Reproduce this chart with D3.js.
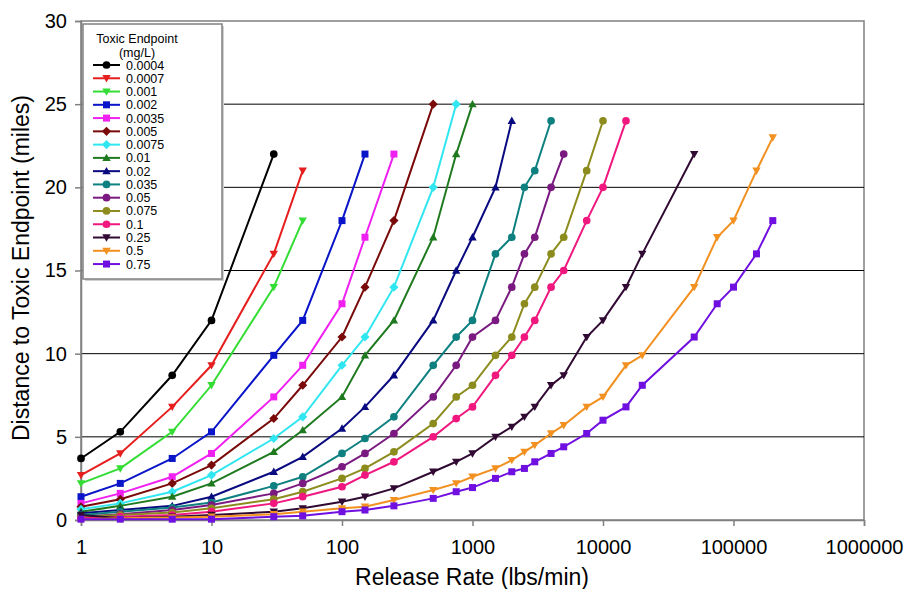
<!DOCTYPE html>
<html><head><meta charset="utf-8">
<script src="https://cdn.jsdelivr.net/npm/d3@7"></script>
<style>body{margin:0;background:#fff}svg{display:block;font-family:Arial,"Liberation Sans",sans-serif}</style>
</head><body><svg id="c" width="911" height="589"></svg>
<script>
const rates = [1,2,5,10,30,50,100,150,250,500,750,1000,1500,2000,2500,3000,4000,5000,7500,10000,15000,20000,50000,75000,100000,150000,200000];
const endpoints = ["0.0004","0.0007","0.001","0.002","0.0035","0.005","0.0075","0.01","0.02","0.035","0.05","0.075","0.1","0.25","0.5","0.75"];
const d0004 = [3.7, 5.3, 8.7, 12, 22];
const d0007 = [2.7, 4.0, 6.8, 9.3, 16, 21];
const d001  = [2.2, 3.1, 5.3, 8.1, 14, 18];
const d002  = [1.4, 2.2, 3.7, 5.3, 9.9, 12, 18, 22];
const d0035 = [1.0, 1.6, 2.6, 4.0, 7.4, 9.3, 13, 17, 22];
const d005  = [0.8, 1.25, 2.2, 3.3, 6.1, 8.1, 11, 14, 18, 25];
const d0075 = [0.65, 1.0, 1.7, 2.7, 4.9, 6.2, 9.3, 11, 14, 20, 25];
const d01   = [0.5, 0.85, 1.4, 2.2, 4.1, 5.4, 7.4, 9.9, 12, 17, 22, 25];
const d02   = [0.4, 0.6, 0.85, 1.4, 2.9, 3.8, 5.5, 6.8, 8.7, 12, 15, 17, 20, 24];
const d035  = [0.3, 0.5, 0.75, 1.05, 2.05, 2.6, 4.0, 4.9, 6.2, 9.3, 11, 12, 16, 17, 20, 21, 24];
const d05   = [0.2, 0.35, 0.6, 0.9, 1.6, 2.2, 3.2, 4.0, 5.2, 7.4, 9.3, 11, 12, 14, 16, 17, 20, 22];
const d075  = [0.2, 0.3, 0.45, 0.7, 1.25, 1.7, 2.5, 3.1, 4.1, 5.8, 7.4, 8.1, 9.9, 11, 13, 14, 16, 17, 21, 24];
const d1    = [0.1, 0.2, 0.3, 0.5, 1.0, 1.4, 2.0, 2.7, 3.5, 5.0, 6.1, 6.8, 8.7, 9.9, 11, 12, 14, 15, 18, 20, 24];
const d25   = [0.3, 0.1, 0.2, 0.3, 0.5, 0.7, 1.1, 1.4, 1.9, 2.9, 3.5, 4.0, 5.0, 5.6, 6.2, 6.8, 8.1, 8.7, 11, 12, 14, 16, 22];
const d5    = [0.05, 0.1, 0.15, 0.2, 0.35, 0.5, 0.7, 0.8, 1.2, 1.8, 2.2, 2.6, 3.1, 3.6, 4.1, 4.5, 5.2, 5.7, 6.8, 7.4, 9.3, 9.9, 14, 17, 18, 21, 23];
const d75   = [0.05, 0.05, 0.05, 0.05, 0.2, 0.25, 0.5, 0.6, 0.85, 1.3, 1.7, 1.95, 2.5, 2.9, 3.1, 3.5, 4.0, 4.4, 5.2, 6.0, 6.8, 8.1, 11, 13, 14, 16, 18];
const xTicks = [1,10,100,1000,10000,100000,1000000];
const yTicks = [0,5,10,15,20,25,30];

const seriesValues = [d0004,d0007,d001,d002,d0035,d005,d0075,d01,d02,d035,d05,d075,d1,d25,d5,d75];
const colors = ["#000000","#e61e1e","#33dd33","#0a14c8","#f020f0","#7a0a0a","#30e6f0","#1f7a1f","#0a0a80","#0f8080","#7a1a80","#8c8c1e","#f0187f","#300a33","#f29020","#7010e0"];
const shapes = ["circle","triDown","triDown","square","square","diamond","diamond","triUp","triUp","circle","circle","circle","circle","triDown","triDown","square"];

const svg = d3.select("#c");
const L=81, R=864, T=21, B=520;
const x = d3.scaleLog().domain([1,1e6]).range([L,R]);
const y = d3.scaleLinear().domain([0,30]).range([B,T]);

svg.append("rect").attr("x",L).attr("y",T).attr("width",R-L).attr("height",B-T)
  .attr("fill","#fff").attr("stroke","#808080").attr("stroke-width",1.5);
svg.append("g").selectAll("line").data(yTicks.filter(v=>v>0&&v<30)).join("line")
  .attr("x1",L).attr("x2",R).attr("y1",d=>y(d)).attr("y2",d=>y(d))
  .attr("stroke","#000").attr("stroke-width",1);

const xAxis = d3.axisBottom(x).tickValues(xTicks).tickFormat(d3.format("d")).tickSize(6).tickPadding(14);
const gx = svg.append("g").attr("transform",`translate(0,${B})`).call(xAxis);
gx.select(".domain").attr("stroke","#808080").attr("stroke-width",1.5);
gx.selectAll(".tick line").attr("stroke","#808080").attr("stroke-width",1.5);
gx.selectAll(".tick text").attr("font-size",20).attr("fill","#000").attr("font-family","Arial, 'Liberation Sans', sans-serif");

const yAxis = d3.axisLeft(y).tickValues(yTicks).tickSize(6).tickPadding(8);
const gy = svg.append("g").attr("transform",`translate(${L},0)`).call(yAxis);
gy.select(".domain").attr("stroke","#808080").attr("stroke-width",1.5);
gy.selectAll(".tick line").attr("stroke","#808080").attr("stroke-width",1.5);
gy.selectAll(".tick text").attr("font-size",20).attr("fill","#000").attr("font-family","Arial, 'Liberation Sans', sans-serif");

svg.append("text").attr("x",472).attr("y",585).attr("text-anchor","middle")
  .attr("font-size",23).text("Release Rate (lbs/min)");
svg.append("text").attr("transform","translate(29,268) rotate(-90)").attr("text-anchor","middle")
  .attr("font-size",23).text("Distance to Toxic Endpoint (miles)");

function marker(g, shape, cx, cy, color, s){
  if(shape==="circle") g.append("circle").attr("cx",cx).attr("cy",cy).attr("r",s*0.55).attr("fill",color);
  else if(shape==="square") g.append("rect").attr("x",cx-s/2).attr("y",cy-s/2).attr("width",s).attr("height",s).attr("fill",color);
  else if(shape==="diamond") g.append("path").attr("d",`M${cx},${cy-s*0.65}L${cx+s*0.65},${cy}L${cx},${cy+s*0.65}L${cx-s*0.65},${cy}Z`).attr("fill",color);
  else if(shape==="triUp") g.append("path").attr("d",`M${cx},${cy-s*0.6}L${cx+s*0.6},${cy+s*0.45}L${cx-s*0.6},${cy+s*0.45}Z`).attr("fill",color);
  else if(shape==="triDown") g.append("path").attr("d",`M${cx},${cy+s*0.6}L${cx+s*0.6},${cy-s*0.45}L${cx-s*0.6},${cy-s*0.45}Z`).attr("fill",color);
}

const line = d3.line().x(d=>x(d[0])).y(d=>y(d[1]));
const plot = svg.append("g");
seriesValues.forEach((vals,i)=>{
  const pts = vals.map((v,j)=>[rates[j],v]);
  const g = plot.append("g");
  g.append("path").datum(pts).attr("d",line).attr("fill","none").attr("stroke",colors[i]).attr("stroke-width",2);
  pts.forEach(p=>marker(g,shapes[i],x(p[0]),y(p[1]),colors[i],7));
});

const lg = svg.append("g");
lg.append("rect").attr("x",85).attr("y",26).attr("width",139).attr("height",255).attr("fill","#d0d0d0");
lg.append("rect").attr("x",83).attr("y",24).attr("width",139).attr("height",255).attr("fill","#fff").attr("stroke","#808080").attr("stroke-width",1.5);
lg.append("text").attr("x",137).attr("y",43).attr("text-anchor","middle").attr("font-size",12.5).text("Toxic Endpoint");
lg.append("text").attr("x",137).attr("y",57).attr("text-anchor","middle").attr("font-size",12.5).text("(mg/L)");
endpoints.forEach((e,i)=>{
  const yy = 65 + i*13.27;
  lg.append("line").attr("x1",93).attr("x2",120).attr("y1",yy).attr("y2",yy).attr("stroke",colors[i]).attr("stroke-width",2);
  marker(lg,shapes[i],106.5,yy,colors[i],7);
  lg.append("text").attr("x",126).attr("y",yy+4.5).attr("font-size",12.5).text(e);
});
</script></body></html>
